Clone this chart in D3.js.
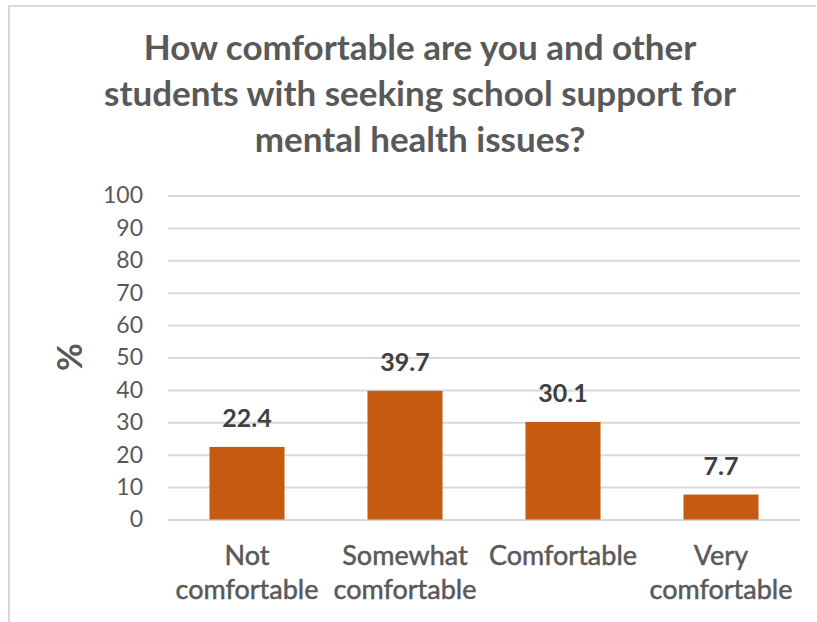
<!DOCTYPE html>
<html>
<head>
<meta charset="utf-8">
<script src="https://cdn.jsdelivr.net/npm/d3@7"></script>
<style>
  html, body { margin: 0; padding: 0; background: #fff; }
  svg { display: block; font-family: Lato, "Open Sans", sans-serif; }
</style>
</head>
<body>
<svg id="chart" width="817" height="622"></svg>
<script>
// Survey responses: comfort seeking school mental-health support (%)
const categories = [["Not", "comfortable"], ["Somewhat", "comfortable"], ["Comfortable"], ["Very", "comfortable"]];
const values = [22.4, 39.7, 30.1, 7.7];
const yTicks = [0, 10, 20, 30, 40, 50, 60, 70, 80, 90, 100];
const titleLines = ["How comfortable are you and other", "students with seeking school support for", "mental health issues?"];

const svg = d3.select("#chart");
const W = 817, H = 622;

// chart frame
svg.append("path")
  .attr("d", `M9,${H} L9,6 L${W - 1},6`)
  .attr("fill", "none")
  .attr("stroke", "#d9d9d9")
  .attr("stroke-width", 2);

const plot = { left: 168, right: 800, top: 195.5, bottom: 519.5 };

const x = d3.scaleBand()
  .domain(d3.range(values.length))
  .range([plot.left, plot.right])
  .paddingInner(0.525)
  .paddingOuter(0.2625);

const y = d3.scaleLinear().domain([0, 100]).range([plot.bottom, plot.top]);

// title
svg.append("text")
  .attr("x", 420)
  .attr("y", 60)
  .attr("text-anchor", "middle")
  .attr("font-size", 35)
  .attr("font-weight", "bold")
  .attr("fill", "#595959")
  .selectAll("tspan")
  .data(titleLines)
  .join("tspan")
  .attr("x", 420)
  .attr("dy", (d, i) => i === 0 ? 0 : 46)
  .text(d => d);

// gridlines + y axis labels
const yAxis = d3.axisLeft(y)
  .tickValues(yTicks)
  .tickSize(-(plot.right - plot.left))
  .tickPadding(25);

const gy = svg.append("g")
  .attr("transform", `translate(${plot.left},0)`)
  .call(yAxis);
gy.select(".domain").remove();
gy.selectAll(".tick line").attr("stroke", "#d9d9d9").attr("stroke-width", 2);
gy.selectAll(".tick text")
  .attr("font-family", "Lato, 'Open Sans', sans-serif")
  .attr("font-size", 23)
  .attr("fill", "#595959");

// y axis title
svg.append("text")
  .attr("transform", "translate(82,357) rotate(-90)")
  .attr("text-anchor", "middle")
  .attr("font-size", 34)
  .attr("font-weight", "bold")
  .attr("fill", "#595959")
  .text("%");

// bars
svg.append("g")
  .selectAll("rect")
  .data(values)
  .join("rect")
  .attr("x", (d, i) => x(i))
  .attr("width", x.bandwidth())
  .attr("y", d => y(d))
  .attr("height", d => y(0) - y(d))
  .attr("fill", "#c55a11");

// value labels
svg.append("g")
  .selectAll("text")
  .data(values)
  .join("text")
  .attr("x", (d, i) => x(i) + x.bandwidth() / 2)
  .attr("y", d => y(d) - 20)
  .attr("text-anchor", "middle")
  .attr("font-size", 25)
  .attr("font-weight", "bold")
  .attr("fill", "#404040")
  .text(d => d.toFixed(1));

// category labels (slightly heavier than the tick labels)
const catG = svg.append("g")
  .selectAll("text")
  .data(categories)
  .join("text")
  .attr("x", (d, i) => x(i) + x.bandwidth() / 2)
  .attr("y", 565)
  .attr("text-anchor", "middle")
  .attr("font-size", 27)
  .attr("fill", "#595959")
  .attr("stroke", "#595959")
  .attr("stroke-width", 0.5);
catG.selectAll("tspan")
  .data((d, i) => d.map(t => ({ t, cx: x(i) + x.bandwidth() / 2 })))
  .join("tspan")
  .attr("x", d => d.cx)
  .attr("dy", (d, j) => j === 0 ? 0 : 34)
  .text(d => d.t);
</script>
</body>
</html>
